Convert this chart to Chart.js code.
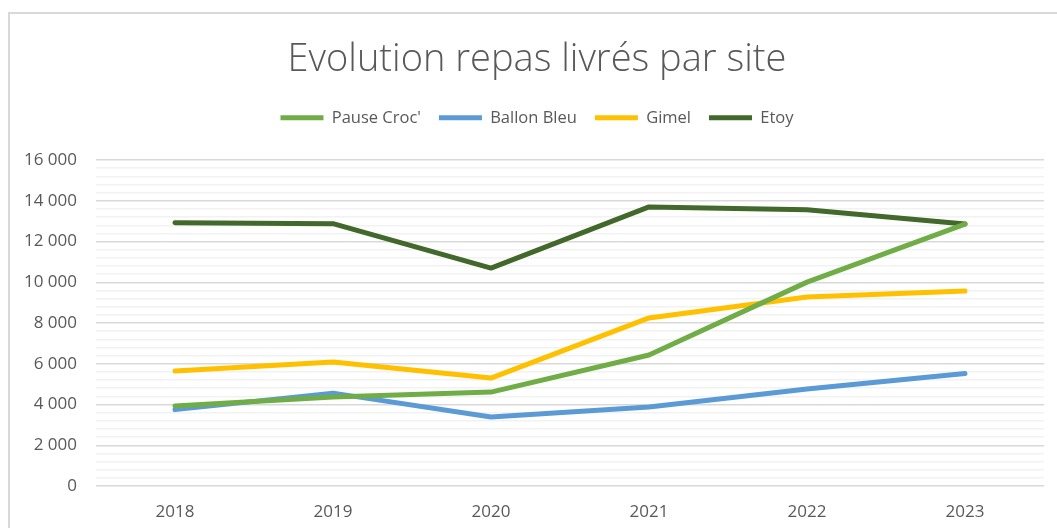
<!DOCTYPE html>
<html>
<head>
<meta charset="utf-8">
<script src="https://cdn.jsdelivr.net/npm/chart.js@4/dist/chart.umd.min.js"></script>
<style>
  html, body { margin: 0; padding: 0; background: #ffffff; }
  #wrap { position: relative; width: 1057px; height: 528px; overflow: hidden; }
  #frame { position: absolute; left: 8px; top: 12px; width: 1060px; height: 600px; border-left: 2px solid #d9d9d9; border-top: 2px solid #d9d9d9; box-sizing: border-box; pointer-events: none; }
  canvas { position: absolute; left: 0; top: 0; }
</style>
</head>
<body>
<div id="wrap">
  <div id="frame"></div>
  <canvas id="c" width="1057" height="528"></canvas>
</div>
<script>
const chartTitle = "Evolution repas livrés par site";
const years = ["2018", "2019", "2020", "2021", "2022", "2023"];
const seriesNames = ["Pause Croc'", "Ballon Bleu", "Gimel", "Etoy"];
const pauseCroc = [3930, 4370, 4610, 6430, 10010, 12860];
const ballonBleu = [3750, 4560, 3390, 3880, 4760, 5520];
const gimel = [5640, 6090, 5300, 8250, 9280, 9570];
const etoy = [12930, 12880, 10700, 13700, 13560, 12860];
const seriesColors = ["#70AD47", "#5B9BD5", "#FFC000", "#43682B"];
const yMin = 0, yMax = 16000, yMajor = 2000, yMinor = 400;

const allValues = [pauseCroc, ballonBleu, gimel, etoy];
const textColor = "#595959";
const fontFamily = "'Open Sans', Lato, 'Liberation Sans', sans-serif";

function fmt(v) {
  const s = String(Math.round(v));
  return s.replace(/\B(?=(\d{3})+(?!\d))/g, " ");
}

const datasets = seriesNames.map((name, i) => ({
  label: name,
  data: allValues[i],
  borderColor: seriesColors[i],
  backgroundColor: seriesColors[i],
  borderWidth: 5,
  borderCapStyle: "round",
  borderJoinStyle: "round",
  pointRadius: 0,
  pointHoverRadius: 0,
  tension: 0,
  fill: false
}));

// shift the centred title and legend a little to the right, as in the reference
const headerShift = {
  id: "headerShift",
  afterLayout(chart) {
    const dx = 15;
    [chart.titleBlock, chart.legend].forEach(b => {
      if (b) { b.left += dx; b.right += dx; }
    });
  }
};

new Chart(document.getElementById("c"), {
  type: "line",
  data: { labels: years, datasets: datasets },
  plugins: [headerShift],
  options: {
    responsive: false,
    animation: false,
    events: [],
    layout: { padding: { left: 0, right: 13, top: 0, bottom: 0 } },
    plugins: {
      title: {
        display: true,
        text: chartTitle,
        color: textColor,
        font: { family: fontFamily, size: 38, weight: 300, lineHeight: 1.2 },
        padding: { top: 37, bottom: 9 }
      },
      subtitle: {
        display: true,
        text: "",
        weight: 500,
        padding: 0,
        font: { size: 10, lineHeight: 2.4 }
      },
      legend: {
        display: true,
        position: "top",
        labels: {
          color: textColor,
          font: { family: fontFamily, size: 16.5 },
          usePointStyle: true,
          pointStyle: "line",
          pointStyleWidth: 43,
          padding: 18
        }
      },
      tooltip: { enabled: false }
    },
    scales: {
      x: {
        type: "category",
        offset: true,
        afterFit: (s) => { s.height = 42; },
        grid: { display: false, drawTicks: false },
        border: { display: false },
        ticks: {
          color: textColor,
          font: { family: fontFamily, size: 17 },
          padding: 16,
          maxRotation: 0
        }
      },
      y: {
        min: yMin,
        max: yMax,
        afterFit: (s) => { s.width = 96; },
        border: { display: false },
        grid: {
          drawTicks: false,
          lineWidth: 1.5,
          color: (ctx) => (ctx.tick && ctx.tick.value % yMajor === 0) ? "#d9d9d9" : "#f2f2f2"
        },
        ticks: {
          stepSize: yMinor,
          autoSkip: false,
          maxTicksLimit: 100,
          color: textColor,
          font: { family: fontFamily, size: 17 },
          padding: 19,
          callback: (v) => (v % yMajor === 0) ? fmt(v) : ""
        }
      }
    }
  }
});
</script>
</body>
</html>
